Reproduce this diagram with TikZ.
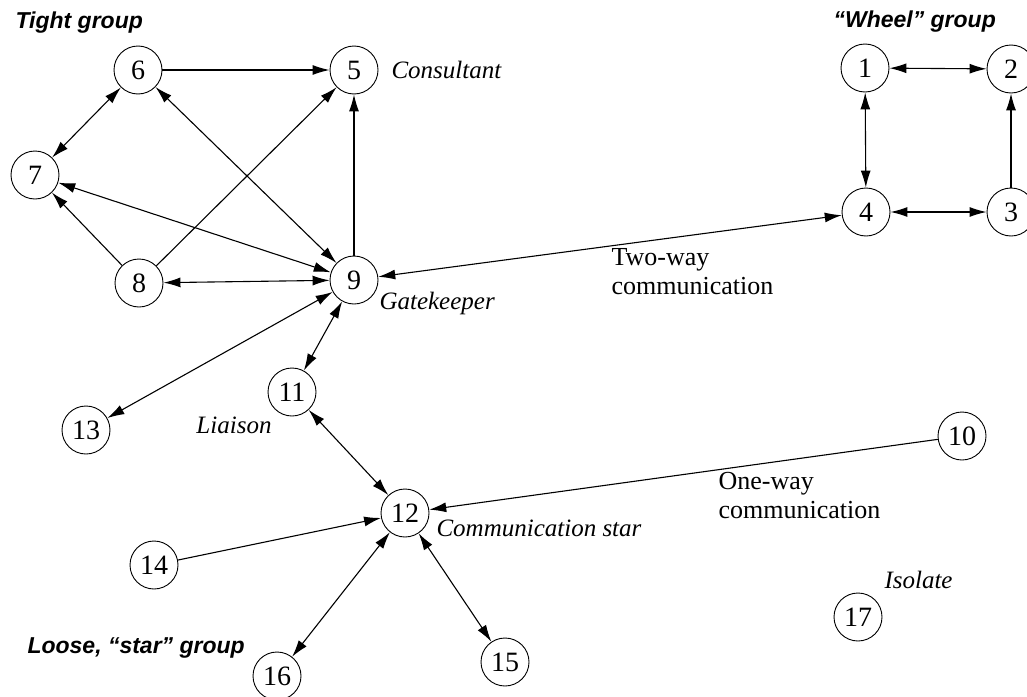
\documentclass[tikz,border=0pt]{standalone}
\usepackage{fontspec}
\setmainfont{Liberation Serif}
\newfontfamily\groupfont{Liberation Sans}
\usetikzlibrary{arrows.meta}

\begin{document}
\begin{tikzpicture}[x=1pt,y=-1pt,>={Latex[length=17pt,width=10pt]}]
  \tikzstyle{person}=[draw,circle,line width=0.9pt,minimum size=48pt,inner sep=0pt,
    font=\fontsize{28}{28}\selectfont]
  \tikzstyle{role}=[anchor=west,font=\fontsize{25}{28}\selectfont\itshape]
  \tikzstyle{group}=[anchor=west,font=\groupfont\fontsize{23}{26}\selectfont\bfseries\itshape]
  \tikzstyle{flow}=[anchor=west,align=left,font=\fontsize{26}{29}\selectfont]
  \tikzstyle{link}=[line width=1.1pt]
  \useasboundingbox (0,0) rectangle (1027,696);
  % tight group
  \node[person] (p6) at (138,70) {6};
  \node[person] (p5) at (354,70) {5};
  \node[person] (p7) at (35,175) {7};
  \node[person] (p8) at (139,283) {8};
  \node[person] (p9) at (354,280) {9};
  % wheel group
  \node[person] (p1) at (865,68) {1};
  \node[person] (p2) at (1011,69) {2};
  \node[person] (p4) at (866,212) {4};
  \node[person] (p3) at (1011,212) {3};
  % loose star group
  \node[person] (p11) at (292,392) {11};
  \node[person] (p13) at (86,430) {13};
  \node[person] (p12) at (405,513) {12};
  \node[person] (p14) at (154,565) {14};
  \node[person] (p16) at (277,676) {16};
  \node[person] (p15) at (505,662) {15};
  \node[person] (p10) at (962,436) {10};
  \node[person] (p17) at (858,617) {17};
  % labels
  \node[group] (tight) at (12,23) {Tight group};
  \node[group] (wheel) at (830,22) {“Wheel” group};
  \node[group] (loose) at (24,648) {Loose, “star” group};
  \node[role] (consultant) at (388,70) {Consultant};
  \node[role] (gatekeeper) at (376,303) {Gatekeeper};
  \node[role,anchor=center] (liaison) at (234,425) {Liaison};
  \node[role] (star) at (433,528) {Communication star};
  \node[role] (isolate) at (881,580) {Isolate};
  \node[flow] (twoway) at (608,272) {Two-way\\communication};
  \node[flow] (oneway) at (715,496) {One-way\\communication};
  % connections
  \draw[link,->] (p6) -- (p5);
  \draw[link,<->] (p6) -- (p7);
  \draw[link,<->] (p6) -- (p9);
  \draw[link,<->] (p7) -- (p9);
  \draw[link,->] (p8) -- (p7);
  \draw[link,->] (p8) -- (p5);
  \draw[link,<->] (p8) -- (p9);
  \draw[link,->] (p9) -- (p5);
  \draw[link,<->] (p9) -- (p4);
  \draw[link,<->] (p9) -- (p11);
  \draw[link,<->] (p9) -- (p13);
  \draw[link,<->] (p11) -- (p12);
  \draw[link,->] (p10) -- (p12);
  \draw[link,->] (p14) -- (p12);
  \draw[link,<->] (p12) -- (p16);
  \draw[link,<->] (p12) -- (p15);
  \draw[link,<->] (p1) -- (p2);
  \draw[link,<->] (p1) -- (p4);
  \draw[link,<->] (p4) -- (p3);
  \draw[link,->] (p3) -- (p2);
\end{tikzpicture}
\end{document}
